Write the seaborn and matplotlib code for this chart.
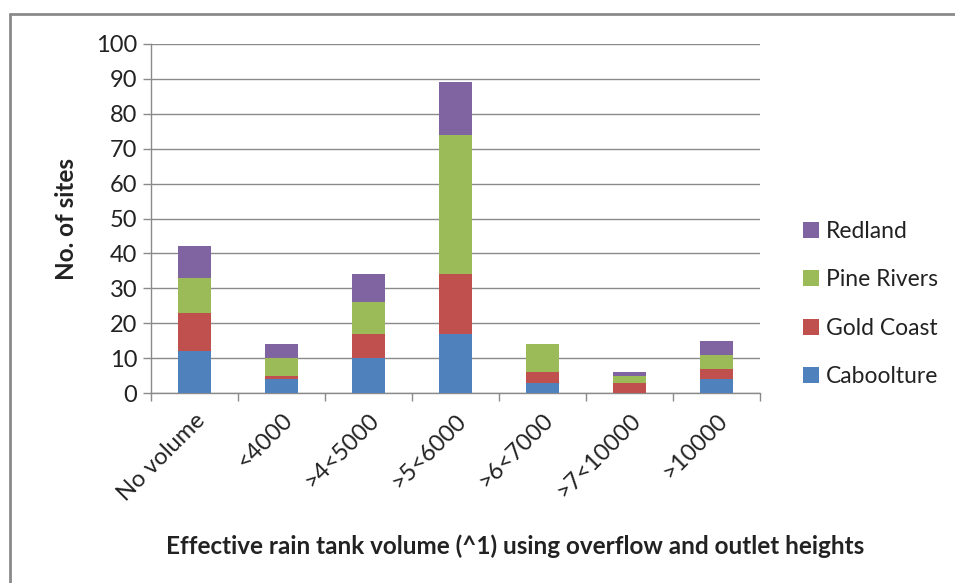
import matplotlib
matplotlib.use("Agg")
import matplotlib.pyplot as plt
from matplotlib.lines import Line2D
from matplotlib.patches import Patch
import numpy as np
import pandas as pd
import seaborn as sns

categories = ["No volume", "<4000", ">4<5000", ">5<6000", ">6<7000", ">7<10000", ">10000"]
caboolture = [12, 4, 10, 17, 3, 0, 4]
gold_coast = [11, 1, 7, 17, 3, 3, 3]
pine_rivers = [10, 5, 9, 40, 8, 2, 4]
redland = [9, 4, 8, 15, 0, 1, 4]

series_names = ["Caboolture", "Gold Coast", "Pine Rivers", "Redland"]
series_values = [caboolture, gold_coast, pine_rivers, redland]
colors = {"Caboolture": "#4F81BD", "Gold Coast": "#C0504D",
          "Pine Rivers": "#9BBB59", "Redland": "#8064A2"}

sns.set_theme(style="white")
plt.rcParams["font.family"] = ["Lato", "DejaVu Sans"]

W, H = 955, 583
fig = plt.figure(figsize=(W / 100, H / 100), dpi=100)
ax = fig.add_axes([151 / W, 1 - 393 / H, (760 - 151) / W, (393 - 44) / H])

# stacked bars: draw cumulative totals from the top segment down
cum = np.cumsum(np.array(series_values), axis=0)
for name, tops in reversed(list(zip(series_names, cum))):
    df = pd.DataFrame({"category": categories, "value": tops})
    sns.barplot(data=df, x="category", y="value", color=colors[name],
                saturation=1, width=0.39, ax=ax, zorder=3, linewidth=0,
                edgecolor="none")

ax.set_ylim(0, 100)
ax.set_xlim(-0.5, len(categories) - 0.5)
ax.set_yticks(range(0, 101, 10))
ax.yaxis.grid(True, color="#8a8a8a", linewidth=1.0, zorder=0)
ax.set_axisbelow(True)

for s in ["top", "right"]:
    ax.spines[s].set_visible(False)
for s in ["left", "bottom"]:
    ax.spines[s].set_color("#8a8a8a")
    ax.spines[s].set_linewidth(1.0)

FS = 17
ax.tick_params(axis="y", which="major", direction="out", length=6, width=1,
               color="#8a8a8a", labelsize=FS, labelcolor="#222222", pad=4, left=True)
ax.set_xticks(np.arange(-0.5, len(categories), 1.0), minor=True)
ax.tick_params(axis="x", which="minor", direction="out", length=6, width=1,
               color="#8a8a8a", bottom=True)
ax.tick_params(axis="x", which="major", length=0, labelsize=FS,
               labelcolor="#222222", pad=12)
ax.set_xticks(range(len(categories)))
ax.set_xticklabels(categories, rotation=45, ha="right", rotation_mode="anchor")

ax.set_xlabel("")
ax.set_ylabel("No. of sites", fontsize=17.5, fontweight="bold", color="#222222", labelpad=13)
fig.text(515 / W, 1 - 546 / H,
         "Effective rain tank volume (^1) using overflow and outlet heights",
         ha="center", va="center", fontsize=17.5, fontweight="bold", color="#222222")

handles = [Patch(facecolor=colors[n], edgecolor="none") for n in reversed(series_names)]
leg = fig.legend(handles, list(reversed(series_names)), loc="center left",
                 bbox_to_anchor=(782 / W, 1 - 304 / H), frameon=False,
                 fontsize=16.5, labelspacing=1.2, handlelength=0.7,
                 handleheight=0.7, handletextpad=0.3)
for t in leg.get_texts():
    t.set_color("#222222")

# chart frame
fig.add_artist(Line2D([10 / W, 10 / W], [1 - 14 / H, 0.0], transform=fig.transFigure,
                      color="#8a8a8a", linewidth=2))
fig.add_artist(Line2D([10 / W, 1.0], [1 - 14 / H, 1 - 14 / H], transform=fig.transFigure,
                      color="#8a8a8a", linewidth=2))

fig.savefig("out.png", dpi=100)
